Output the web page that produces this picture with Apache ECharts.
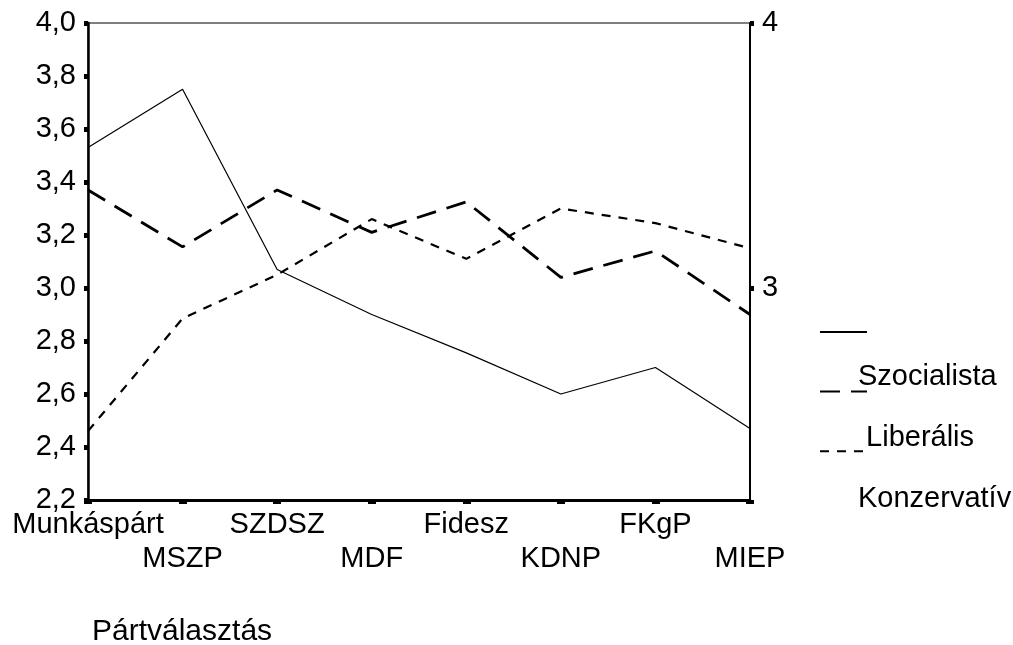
<!DOCTYPE html>
<html>
<head>
<meta charset="utf-8">
<script src="https://cdn.jsdelivr.net/npm/echarts@6/dist/echarts.min.js"></script>
<style>html,body{margin:0;padding:0;background:#fff}#c{width:1013px;height:645px}</style>
</head>
<body>
<div id="c"></div>
<script>
const categories = ['Munkáspárt', 'MSZP', 'SZDSZ', 'MDF', 'Fidesz', 'KDNP', 'FKgP', 'MIEP'];
const seriesNames = ['Szocialista', 'Liberális', 'Konzervatív'];
const szocialista = [3.53, 3.75, 3.07, 2.90, 2.755, 2.60, 2.70, 2.47];
const liberalis = [3.37, 3.155, 3.37, 3.21, 3.325, 3.04, 3.14, 2.90];
const konzervativ = [2.46, 2.885, 3.05, 3.26, 3.11, 3.30, 3.245, 3.15];
const rightTicks = [3, 4];
const xTitle = 'Pártválasztás';

const FONT = 'Liberation Sans';
const chart = echarts.init(document.getElementById('c'), null, {renderer: 'canvas'});
chart.setOption({
  animation: false,
  backgroundColor: '#fff',
  title: {
    text: xTitle, left: 87, top: 612,
    textStyle: {fontFamily: FONT, fontSize: 30, fontWeight: 'normal', color: '#000'}
  },
  grid: {left: 88, right: 263, top: 23, bottom: 145, show: true, borderColor: '#000', borderWidth: 1, backgroundColor: 'transparent'},
  legend: [
    {
      orient: 'vertical', left: 814, top: 320, itemWidth: 47, itemHeight: 14, itemGap: 47,
      selectedMode: false, data: seriesNames,
      itemStyle: {opacity: 0},
      lineStyle: {width: 2},
      formatter: function () { return ''; },
      textStyle: {fontSize: 8}
    },
    {
      orient: 'vertical', left: 848, top: 357, itemWidth: 0, itemHeight: 20, itemGap: 32,
      selectedMode: false, data: seriesNames, icon: 'rect',
      itemStyle: {opacity: 0}, lineStyle: {opacity: 0},
      formatter: function (n) { return n === 'Liberális' ? ' ' + n : n; },
      textStyle: {fontFamily: FONT, fontSize: 29, color: '#000'}
    }
  ],
  xAxis: {
    type: 'category', data: categories, boundaryGap: false,
    axisLine: {lineStyle: {color: '#000', width: 3}},
    axisTick: {show: true, length: 4, lineStyle: {color: '#000', width: 8}},
    splitLine: {show: false},
    axisLabel: {
      interval: 0, margin: 8, color: '#000', fontFamily: FONT, fontSize: 29, lineHeight: 34,
      formatter: function (v, i) { return i % 2 ? '\n' + v : v; }
    }
  },
  yAxis: [
    {
      type: 'value', position: 'left', min: 2.2, max: 4.0, interval: 0.2,
      axisLine: {show: true, lineStyle: {color: '#000', width: 2.5}},
      axisTick: {show: true, length: 4, lineStyle: {color: '#000', width: 5}},
      splitLine: {show: false},
      axisLabel: {
        margin: 12, color: '#000', fontFamily: FONT, fontSize: 29,
        formatter: function (v) { return v.toFixed(1).replace('.', ','); }
      }
    },
    {
      type: 'value', position: 'right', min: 2.2, max: 4.0,
      axisLine: {show: true, lineStyle: {color: '#000', width: 2}},
      axisTick: {show: true, length: 4, customValues: rightTicks, lineStyle: {color: '#000', width: 5}},
      splitLine: {show: false},
      axisLabel: {
        margin: 12, color: '#000', fontFamily: FONT, fontSize: 29, customValues: rightTicks,
        formatter: function (v) { return String(Math.round(v)); }
      }
    }
  ],
  series: [
    {name: seriesNames[0], type: 'line', data: szocialista, symbol: 'none', color: '#000',
     lineStyle: {color: '#000', width: 1.2, type: 'solid'}},
    {name: seriesNames[1], type: 'line', data: liberalis, symbol: 'none', color: '#000',
     lineStyle: {color: '#000', width: 2.8, type: [20, 11]}},
    {name: seriesNames[2], type: 'line', data: konzervativ, symbol: 'none', color: '#000',
     lineStyle: {color: '#000', width: 2.2, type: [9, 8]}}
  ]
});
</script>
</body>
</html>
